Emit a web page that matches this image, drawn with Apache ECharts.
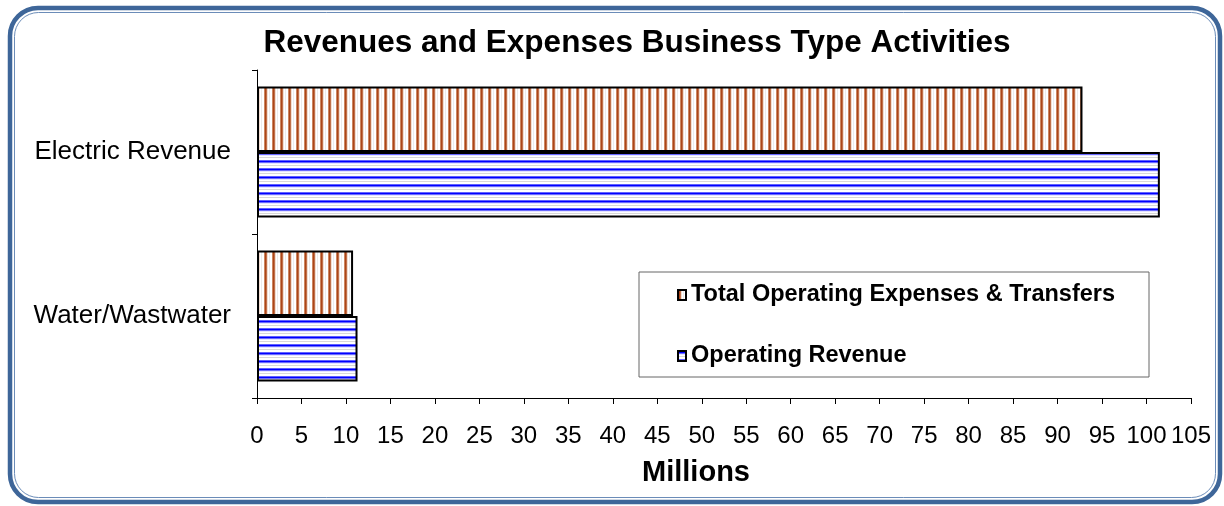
<!DOCTYPE html>
<html>
<head>
<meta charset="utf-8">
<script src="https://cdn.jsdelivr.net/npm/echarts@6/dist/echarts.min.js"></script>
<style>
  html, body { margin: 0; padding: 0; background: #fff; }
  #chart { width: 1224px; height: 506px; }
</style>
</head>
<body>
<div id="chart"></div>
<script>
// bottom to top, like the value axis of ECharts draws them
var categories = ["Water/Wastwater", "Electric Revenue"];
var expenses = [10.8, 92.8];
var revenue = [11.3, 101.5];
var seriesNames = ["Total Operating Expenses & Transfers", "Operating Revenue"];

var font = "'Liberation Sans', Arial, sans-serif";

// striped fills, drawn once on small canvases
function stripes(vertical, colors) {
  var c = document.createElement("canvas");
  c.width = vertical ? colors.length : 1;
  c.height = vertical ? 1 : colors.length;
  var ctx = c.getContext("2d");
  colors.forEach(function (col, i) {
    ctx.fillStyle = col;
    if (vertical) ctx.fillRect(i, 0, 1, 1);
    else ctx.fillRect(0, i, 1, 1);
  });
  return { image: c, repeat: "repeat" };
}

var brownFill = stripes(true, ["#cb8660", "#ac4518", "#c0714a", "#f1ddd2", "#fff", "#ebebeb", "#fff", "#fff"]);
var blueFill = stripes(false, ["#6060ff", "#0000ff", "#6a6aff", "#e4e4ff", "#fff", "#d8d8d8", "#fff", "#fff"]);

var chart = echarts.init(document.getElementById("chart"));

var option = {
  backgroundColor: "#fff",
  animation: false,
  title: {
    text: "Revenues and Expenses Business Type Activities",
    left: 632,
    top: 22,
    textAlign: "center",
    textStyle: { fontFamily: font, fontSize: 31.5, fontWeight: "bold", color: "#000" }
  },
  legend: {
    orient: "vertical",
    left: 672,
    top: 277,
    itemGap: 35,
    itemWidth: 8,
    itemHeight: 10,
    icon: "rect",
    textStyle: { fontFamily: font, fontSize: 23.5, fontWeight: "bold", color: "#000", lineHeight: 26 },
    data: seriesNames
  },
  grid: { left: 257, right: 33, top: 70, bottom: 108 },
  xAxis: {
    type: "value",
    min: 0,
    max: 105,
    interval: 5,
    name: "Millions",
    nameLocation: "middle",
    nameGap: 60,
    nameTextStyle: { fontFamily: font, fontSize: 29, fontWeight: "bold", color: "#000", padding: [0, 56, 0, 0] },
    splitLine: { show: false },
    axisLine: { show: true, lineStyle: { color: "#000", width: 1 } },
    axisTick: { show: true, length: 6, lineStyle: { color: "#000" } },
    axisLabel: { fontFamily: font, fontSize: 24, color: "#000", margin: 26 }
  },
  yAxis: {
    type: "category",
    data: categories,
    axisLine: { show: true, lineStyle: { color: "#000", width: 1 } },
    axisTick: { show: true, length: 5, lineStyle: { color: "#000" } },
    axisLabel: { fontFamily: font, fontSize: 26, color: "#000", margin: 26 }
  },
  series: [
    {
      name: seriesNames[0],
      type: "bar",
      data: expenses,
      barGap: "0%",
      barCategoryGap: "20%",
      itemStyle: { color: brownFill, borderColor: "#000", borderWidth: 2 }
    },
    {
      name: seriesNames[1],
      type: "bar",
      data: revenue,
      barGap: "0%",
      barCategoryGap: "20%",
      itemStyle: { color: blueFill, borderColor: "#000", borderWidth: 2 }
    }
  ],
  graphic: [
    {
      type: "rect",
      z: -1,
      shape: { x: 639, y: 272, width: 510, height: 105 },
      style: { fill: "#fff", stroke: "#666", lineWidth: 1 }
    },
    {
      type: "rect",
      shape: { x: 10, y: 8, width: 1210, height: 494, r: 28 },
      style: { fill: null, stroke: "#3e6699", lineWidth: 4.5 }
    },
    {
      type: "rect",
      shape: { x: 14.5, y: 12.5, width: 1201, height: 485, r: 24 },
      style: { fill: null, stroke: "#6b8cb8", lineWidth: 1 }
    }
  ]
};

chart.setOption(option);
</script>
</body>
</html>
